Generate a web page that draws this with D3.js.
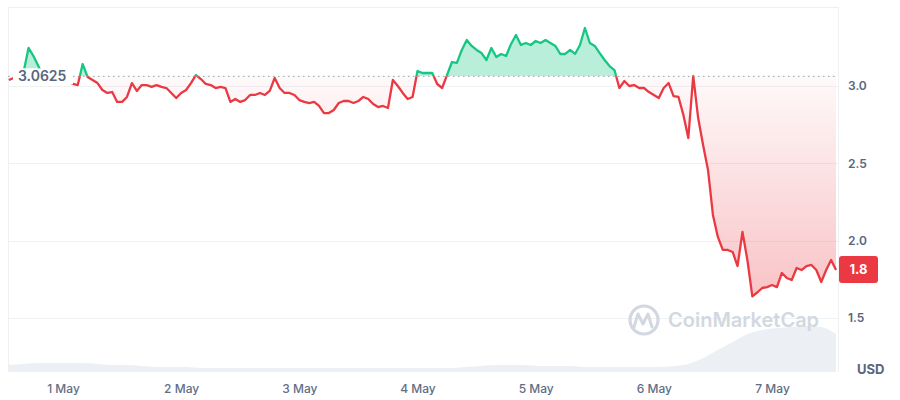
<!DOCTYPE html>
<html><head><meta charset="utf-8">
<script src="https://cdn.jsdelivr.net/npm/d3@7"></script>
<style>body{margin:0;background:#fff;} svg{display:block;font-family:Inter,"Noto Sans",sans-serif;}</style>
</head><body><svg id="c" width="900" height="400"></svg>
<script>
// ---- data ----
const seriesStart = "2024-04-30T13:00:00Z";
const priceStepHours = 1;
const prices = [
3.039,3.052,3.078,3.091,3.246,3.194,3.129,3.06,3.05,3.04,3.06,3.05,3.03,3.013,3.006,3.142,3.058,3.039,3.019,2.974,
2.955,2.961,2.897,2.897,2.929,3.019,2.968,3.006,3.006,2.994,3.006,2.994,2.987,2.955,2.922,2.955,2.974,3.019,3.071,3.045,
3.013,3.006,2.987,2.994,2.987,2.897,2.916,2.897,2.909,2.942,2.942,2.955,2.942,2.968,3.052,2.987,2.955,2.955,2.942,2.909,
2.897,2.890,2.897,2.871,2.825,2.825,2.845,2.890,2.903,2.903,2.890,2.903,2.929,2.916,2.884,2.864,2.871,2.858,3.039,3.000,
2.955,2.916,2.929,3.097,3.084,3.084,3.084,3.013,2.987,3.071,3.155,3.149,3.233,3.297,3.259,3.233,3.213,3.168,3.246,3.187,
3.207,3.194,3.272,3.330,3.265,3.278,3.265,3.291,3.278,3.297,3.278,3.259,3.207,3.207,3.233,3.207,3.265,3.375,3.278,3.259,
3.213,3.168,3.129,3.103,2.987,3.032,3.000,3.006,2.987,2.987,2.961,2.942,2.922,2.987,3.019,2.935,2.929,2.813,2.664,3.065,
2.793,2.619,2.457,2.166,2.024,1.940,1.940,1.927,1.836,2.056,1.875,1.640,1.665,1.694,1.700,1.713,1.700,1.791,1.759,1.746,
1.823,1.810,1.836,1.843,1.810,1.733,1.810,1.875,1.810
];
const volumeStepHours = 3;
const volumes = [
14,16,18,18,18,18,16,14,14,12,10,10,10,8,8,8,8,8,8,8,8,8,8,8,8,8,8,8,8,8,
8,10,12,14,14,14,12,12,12,10,10,10,10,10,10,12,16,28,44,60,76,84,88,90,92,90,76
];
const baseline = 3.0625;
const baselineLabel = "3.0625";
const lastPriceLabel = "1.8";
const yTicks = [1.5, 2.0, 2.5, 3.0];
const xTickDates = ["2024-05-01","2024-05-02","2024-05-03","2024-05-04","2024-05-05","2024-05-06","2024-05-07"];
const currency = "USD";

// ---- build ----
const svg = d3.select("#c");
const t0 = new Date(seriesStart);
const pts = prices.map((p,i)=>({t:new Date(t0.getTime()+i*priceStepHours*3600e3), p}));
const vols = volumes.map((v,i)=>({t:new Date(t0.getTime()+i*volumeStepHours*3600e3), v}));

const L=8, R=838, T=7, B=372;
const x = d3.scaleUtc().domain([new Date("2024-04-30T12:50:00Z"), new Date("2024-05-07T13:24:00Z")]).range([L,R]);
const y = d3.scaleLinear().domain([1.5,3.0]).range([318,86]);
const yv = d3.scaleLinear().domain([0,100]).range([B,322]);
const yb = y(baseline);

const defs = svg.append("defs");
defs.append("clipPath").attr("id","above").append("rect").attr("x",L).attr("y",0).attr("width",R-L).attr("height",yb);
defs.append("clipPath").attr("id","below").append("rect").attr("x",L).attr("y",yb).attr("width",R-L).attr("height",400-yb);
const g = defs.append("linearGradient").attr("id","redGrad").attr("gradientUnits","userSpaceOnUse")
  .attr("x1",0).attr("x2",0).attr("y1",yb).attr("y2",y(1.65));
g.append("stop").attr("offset",0).attr("stop-color","#ea3943").attr("stop-opacity",0.03);
g.append("stop").attr("offset",1).attr("stop-color","#ea3943").attr("stop-opacity",0.3);

// frame
const frame = svg.append("g").attr("stroke","#eef0f3").attr("stroke-width",1);
frame.append("line").attr("x1",L+0.5).attr("x2",L+0.5).attr("y1",T).attr("y2",B);
frame.append("line").attr("x1",R+0.5).attr("x2",R+0.5).attr("y1",T).attr("y2",B);
frame.append("line").attr("x1",L).attr("x2",R).attr("y1",T+0.5).attr("y2",T+0.5);

// gridlines
svg.append("g").selectAll("line").data(yTicks).join("line")
  .attr("x1",L).attr("x2",R).attr("y1",d=>Math.round(y(d))+0.5).attr("y2",d=>Math.round(y(d))+0.5)
  .attr("stroke","#eff2f5");

// volume
svg.append("path").datum(vols)
  .attr("d",d3.area().x(d=>x(d.t)).y0(B).y1(d=>yv(d.v)).curve(d3.curveMonotoneX))
  .attr("fill","#e9ecf1").attr("opacity",0.85);

// watermark
const wmColor = "#d3d8e0";
const wm = svg.append("g").attr("fill","none").attr("stroke",wmColor);
wm.append("circle").attr("cx",644).attr("cy",320).attr("r",14).attr("stroke-width",3.2);
wm.append("path").attr("d","M634,327 L638,314 L643,324 L648,314 L652,327").attr("stroke-width",3).attr("stroke-linejoin","round").attr("stroke-linecap","round");
svg.append("text").attr("x",668).attr("y",327).attr("font-size",20).attr("font-weight",600)
  .attr("fill",wmColor).text("CoinMarketCap");

// areas
const areaGen = d3.area().x(d=>x(d.t)).y0(yb).y1(d=>y(d.p));
svg.append("path").datum(pts).attr("d",areaGen).attr("clip-path","url(#above)").attr("fill","#16c784").attr("opacity",0.3);
svg.append("path").datum(pts).attr("d",areaGen).attr("clip-path","url(#below)").attr("fill","url(#redGrad)");

// baseline dotted
svg.append("line").attr("x1",L).attr("x2",R).attr("y1",yb).attr("y2",yb)
  .attr("stroke","#9aa0aa").attr("stroke-width",1).attr("stroke-dasharray","1.5,3.5");

// lines
const lineGen = d3.line().x(d=>x(d.t)).y(d=>y(d.p));
svg.append("path").datum(pts).attr("d",lineGen).attr("clip-path","url(#above)")
  .attr("fill","none").attr("stroke","#16c784").attr("stroke-width",2.3).attr("stroke-linejoin","round");
svg.append("path").datum(pts).attr("d",lineGen).attr("clip-path","url(#below)")
  .attr("fill","none").attr("stroke","#ea3943").attr("stroke-width",2.3).attr("stroke-linejoin","round");

// baseline label
svg.append("rect").attr("x",13).attr("y",yb-8).attr("width",60).attr("height",16).attr("fill","#fff");
svg.append("text").attr("x",18).attr("y",yb+5).attr("font-size",14).attr("font-weight",600)
  .attr("fill","#58667e").text(baselineLabel);

// right axis
const ya = svg.append("g").attr("transform",`translate(${R+10},0)`)
  .call(d3.axisRight(y).tickValues(yTicks).tickFormat(d3.format(".1f")).tickSize(0).tickPadding(0));
ya.select(".domain").remove();
ya.selectAll("text").attr("font-size",12).attr("font-weight",600).attr("fill","#58667e").attr("font-family","Inter,sans-serif");

svg.append("text").attr("x",857).attr("y",374).attr("font-size",13).attr("font-weight",700)
  .attr("fill","#58667e").text(currency);

// last price label
svg.append("rect").attr("x",R+1).attr("y",256).attr("width",39).attr("height",27).attr("rx",3).attr("fill","#ea3943");
svg.append("text").attr("x",R+20.5).attr("y",274).attr("text-anchor","middle").attr("font-size",13).attr("font-weight",700)
  .attr("fill","#fff").text(lastPriceLabel);

// bottom axis
const xa = svg.append("g").attr("transform",`translate(0,${B+6})`)
  .call(d3.axisBottom(x).tickValues(xTickDates.map(d=>new Date(d+"T00:00:00Z"))).tickFormat(d3.utcFormat("%-d %b")).tickSize(0).tickPadding(6));
xa.select(".domain").remove();
xa.selectAll("text").attr("font-size",12).attr("font-weight",500).attr("fill","#616e85").attr("font-family","Inter,sans-serif");
</script></body></html>
